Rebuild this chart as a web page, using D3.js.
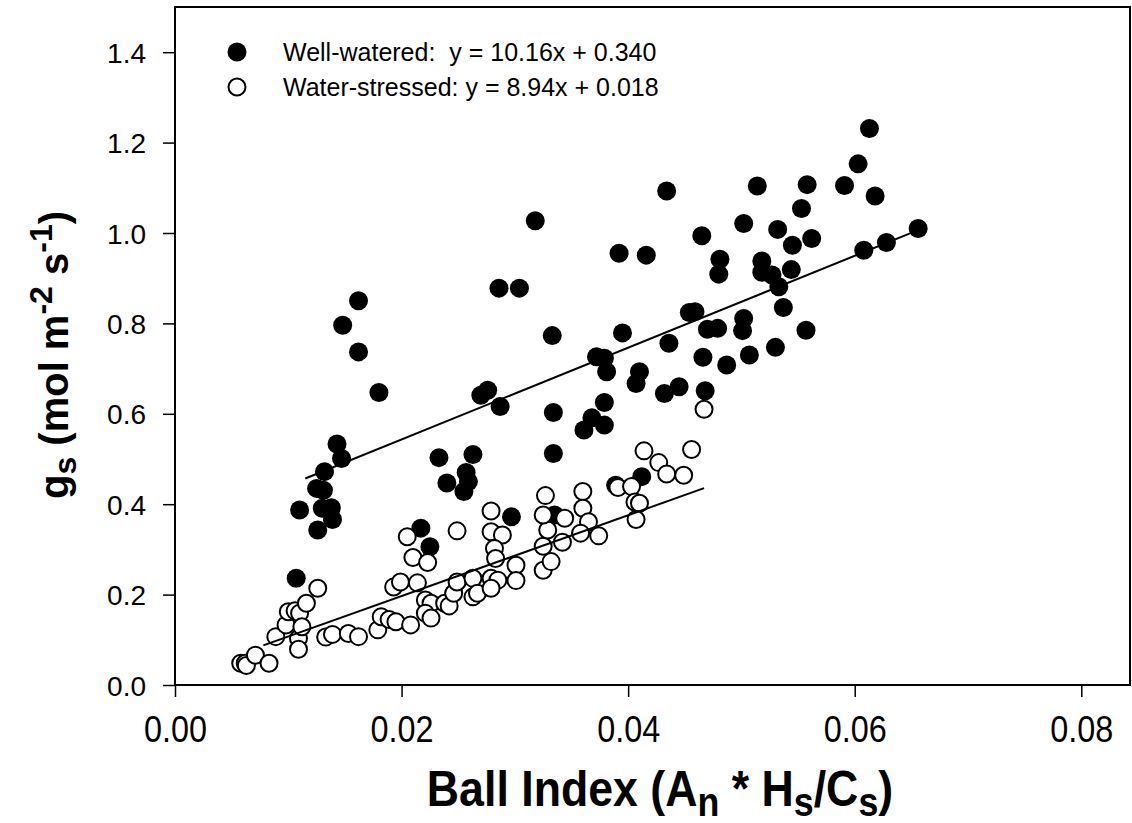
<!DOCTYPE html>
<html>
<head>
<meta charset="utf-8">
<script src="https://cdn.jsdelivr.net/npm/d3@7"></script>
<style>
  html, body { margin: 0; padding: 0; background: #fff; }
  svg { display: block; }
</style>
</head>
<body>
<svg id="chart" width="1132" height="823"></svg>
<script>
// Well-watered plants: Ball index vs stomatal conductance
const wwX = [0.0107, 0.0110, 0.0125, 0.0131, 0.0130, 0.0138, 0.0139, 0.0126, 0.0132, 0.0143,
  0.0147, 0.0148, 0.0162, 0.0162, 0.0180, 0.0217, 0.0225, 0.0233, 0.0263, 0.0240,
  0.0257, 0.0259, 0.0255, 0.0270, 0.0276, 0.0286, 0.0304, 0.0287, 0.0297, 0.0318,
  0.0333, 0.0334, 0.0334, 0.0335, 0.0361, 0.0368, 0.0379, 0.0379, 0.0372, 0.0379,
  0.0381, 0.0392, 0.0395, 0.0389, 0.0410, 0.0407, 0.0412, 0.0416, 0.0432, 0.0445,
  0.0434, 0.0436, 0.0454, 0.0459, 0.0465, 0.0470, 0.0479, 0.0466, 0.0468, 0.0487,
  0.0481, 0.0480, 0.0502, 0.0502, 0.0501, 0.0507, 0.0514, 0.0518, 0.0518, 0.0527,
  0.0533, 0.0532, 0.0530, 0.0537, 0.0544, 0.0545, 0.0553, 0.0558, 0.0557, 0.0562,
  0.0591, 0.0603, 0.0608, 0.0613, 0.0618, 0.0628, 0.0656];
const wwY = [0.236, 0.387, 0.435, 0.431, 0.391, 0.392, 0.366, 0.343, 0.472, 0.533,
  0.501, 0.796, 0.850, 0.737, 0.647, 0.347, 0.306, 0.503, 0.510, 0.447,
  0.470, 0.450, 0.428, 0.641, 0.652, 0.878, 0.878, 0.616, 0.372, 1.027,
  0.773, 0.603, 0.512, 0.376, 0.564, 0.591, 0.575, 0.625, 0.726, 0.723,
  0.693, 0.955, 0.779, 0.442, 0.693, 0.667, 0.461, 0.951, 0.645, 0.660,
  1.093, 0.756, 0.824, 0.826, 0.994, 0.787, 0.789, 0.725, 0.651, 0.708,
  0.942, 0.909, 1.021, 0.811, 0.784, 0.730, 1.104, 0.938, 0.913, 0.907,
  0.881, 1.008, 0.747, 0.835, 0.919, 0.973, 1.054, 1.107, 0.785, 0.988,
  1.105, 1.153, 0.962, 1.231, 1.082, 0.979, 1.010];

// Water-stressed plants
const wsX = [0.0058, 0.0062, 0.0063, 0.0071, 0.0083, 0.0089, 0.0098, 0.0100, 0.0106, 0.0110,
  0.0109, 0.0109, 0.0112, 0.0116, 0.0126, 0.0133, 0.0139, 0.0153, 0.0162, 0.0179,
  0.0182, 0.0189, 0.0195, 0.0193, 0.0199, 0.0208, 0.0205, 0.0210, 0.0214, 0.0223,
  0.0221, 0.0226, 0.0221, 0.0226, 0.0238, 0.0242, 0.0246, 0.0249, 0.0249, 0.0263,
  0.0263, 0.0267, 0.0279, 0.0285, 0.0279, 0.0279, 0.0279, 0.0289, 0.0282, 0.0283,
  0.0301, 0.0301, 0.0325, 0.0332, 0.0325, 0.0329, 0.0325, 0.0327, 0.0342, 0.0344,
  0.0360, 0.0360, 0.0365, 0.0358, 0.0374, 0.0391, 0.0403, 0.0406, 0.0410, 0.0407,
  0.0414, 0.0427, 0.0434, 0.0449, 0.0456, 0.0467];
const wsY = [0.048, 0.048, 0.043, 0.066, 0.048, 0.107, 0.133, 0.162, 0.164, 0.159,
  0.103, 0.079, 0.129, 0.181, 0.214, 0.106, 0.112, 0.114, 0.107, 0.122,
  0.151, 0.145, 0.140, 0.217, 0.228, 0.133, 0.328, 0.282, 0.226, 0.271,
  0.188, 0.181, 0.159, 0.148, 0.181, 0.175, 0.203, 0.228, 0.341, 0.236,
  0.195, 0.203, 0.236, 0.232, 0.214, 0.385, 0.339, 0.332, 0.302, 0.280,
  0.265, 0.231, 0.254, 0.273, 0.307, 0.343, 0.376, 0.419, 0.316, 0.369,
  0.428, 0.391, 0.361, 0.336, 0.330, 0.437, 0.439, 0.405, 0.402, 0.366,
  0.518, 0.492, 0.467, 0.464, 0.521, 0.610];

// Linear fits (slope, intercept) and the x span each fit line covers
const fitSlope = [10.16, 8.94];
const fitIntercept = [0.340, 0.018];
const fitSpan = [[0.0115, 0.0657], [0.0078, 0.0467]];
const seriesNames = ["Well-watered:  ", "Water-stressed: "];
const fitLabels = ["10.16", "8.94"];
const interceptLabels = ["0.340", "0.018"];

const xTicks = [0.00, 0.02, 0.04, 0.06, 0.08];
const yTicks = [0.0, 0.2, 0.4, 0.6, 0.8, 1.0, 1.2, 1.4];

const svg = d3.select("#chart");
const plotLeft = 175, plotRight = 1130, plotTop = 7, plotBottom = 685;

const x = d3.scaleLinear().domain([0, 0.0843]).range([plotLeft, plotRight]);
const y = d3.scaleLinear().domain([0, 1.5]).range([plotBottom, plotTop]);

const sans = "'Liberation Sans', Arial, Helvetica, sans-serif";

// Axes
const xAxis = svg.append("g")
  .attr("transform", `translate(0,${plotBottom})`)
  .call(d3.axisBottom(x).tickValues(xTicks).tickFormat(d3.format(".2f")).tickSize(12).tickSizeOuter(0));
xAxis.select(".domain").remove();
xAxis.selectAll(".tick line").attr("stroke", "#000").attr("stroke-width", 1.5);
// condensed tick labels
xAxis.selectAll(".tick text")
  .attr("y", 31).attr("dy", "0.71em")
  .attr("fill", "#000")
  .attr("textLength", 63).attr("lengthAdjust", "spacingAndGlyphs")
  .style("font-family", sans).style("font-size", "37px");

const yAxis = svg.append("g")
  .attr("transform", `translate(${plotLeft},0)`)
  .call(d3.axisLeft(y).tickValues(yTicks).tickFormat(d3.format(".1f")).tickSize(12).tickSizeOuter(0));
yAxis.select(".domain").remove();
yAxis.selectAll(".tick line").attr("stroke", "#000").attr("stroke-width", 1.5);
yAxis.selectAll(".tick text")
  .attr("x", -29).attr("dy", "0.36em")
  .attr("fill", "#000")
  .style("font-family", sans).style("font-size", "28px");

// Plot frame
svg.append("rect")
  .attr("x", plotLeft).attr("y", plotTop)
  .attr("width", plotRight - plotLeft).attr("height", plotBottom - plotTop)
  .attr("fill", "none").attr("stroke", "#000").attr("stroke-width", 2);

// Points
const ww = wwX.map((v, i) => ({ x: v, y: wwY[i] }));
const ws = wsX.map((v, i) => ({ x: v, y: wsY[i] }));
const r = 9.5;

svg.append("g").selectAll("circle").data(ww).join("circle")
  .attr("cx", d => x(d.x)).attr("cy", d => y(d.y)).attr("r", r)
  .attr("fill", "#000");

svg.append("g").selectAll("circle").data(ws).join("circle")
  .attr("cx", d => x(d.x)).attr("cy", d => y(d.y)).attr("r", r - 1)
  .attr("fill", "#fff").attr("stroke", "#000").attr("stroke-width", 2);

// Fit lines
const line = d3.line().x(d => x(d[0])).y(d => y(d[1]));
fitSlope.forEach((m, i) => {
  const pts = fitSpan[i].map(v => [v, m * v + fitIntercept[i]]);
  svg.append("path").attr("d", line(pts))
    .attr("fill", "none").attr("stroke", "#000").attr("stroke-width", 2);
});

// Legend
const legend = svg.append("g");
const legendRows = [52, 87];
legendRows.forEach((ly, i) => {
  legend.append("circle")
    .attr("cx", 237).attr("cy", ly).attr("r", i === 0 ? 9.5 : 8.5)
    .attr("fill", i === 0 ? "#000" : "#fff")
    .attr("stroke", "#000").attr("stroke-width", i === 0 ? 0 : 2);
  legend.append("text")
    .attr("x", 283).attr("y", ly).attr("dy", "0.36em")
    .attr("xml:space", "preserve").style("white-space", "pre")
    .style("font-family", sans).style("font-size", "25px").attr("fill", "#000")
    .text(`${seriesNames[i]}y = ${fitLabels[i]}x + ${interceptLabels[i]}`);
});

// Axis titles (x title is horizontally condensed)
const xt = svg.append("text")
  .attr("transform", "translate(660,806) scale(0.894,1)")
  .attr("text-anchor", "middle")
  .attr("xml:space", "preserve").style("white-space", "pre")
  .style("font-family", sans).style("font-size", "50px").style("font-weight", "bold").attr("fill", "#000");
xt.append("tspan").text("Ball Index (A");
xt.append("tspan").attr("dy", 10).style("font-size", "40px").text("n");
xt.append("tspan").attr("dy", -10).text(" * H");
xt.append("tspan").attr("dy", 10).style("font-size", "40px").text("s");
xt.append("tspan").attr("dy", -10).text("/C");
xt.append("tspan").attr("dy", 10).style("font-size", "40px").text("s");
xt.append("tspan").attr("dy", -10).text(")");

const yt = svg.append("text")
  .attr("transform", "translate(68,355) rotate(-90)")
  .attr("text-anchor", "middle")
  .attr("xml:space", "preserve").style("white-space", "pre")
  .style("font-family", sans).style("font-size", "40px").style("font-weight", "bold").attr("fill", "#000");
yt.append("tspan").text("g");
yt.append("tspan").attr("dy", 8).style("font-size", "32px").text("s");
yt.append("tspan").attr("dy", -8).text(" (mol m");
yt.append("tspan").attr("dy", -16).style("font-size", "32px").text("-2");
yt.append("tspan").attr("dy", 16).text(" s");
yt.append("tspan").attr("dy", -16).style("font-size", "32px").text("-1");
yt.append("tspan").attr("dy", 16).text(")");
</script>
</body>
</html>
